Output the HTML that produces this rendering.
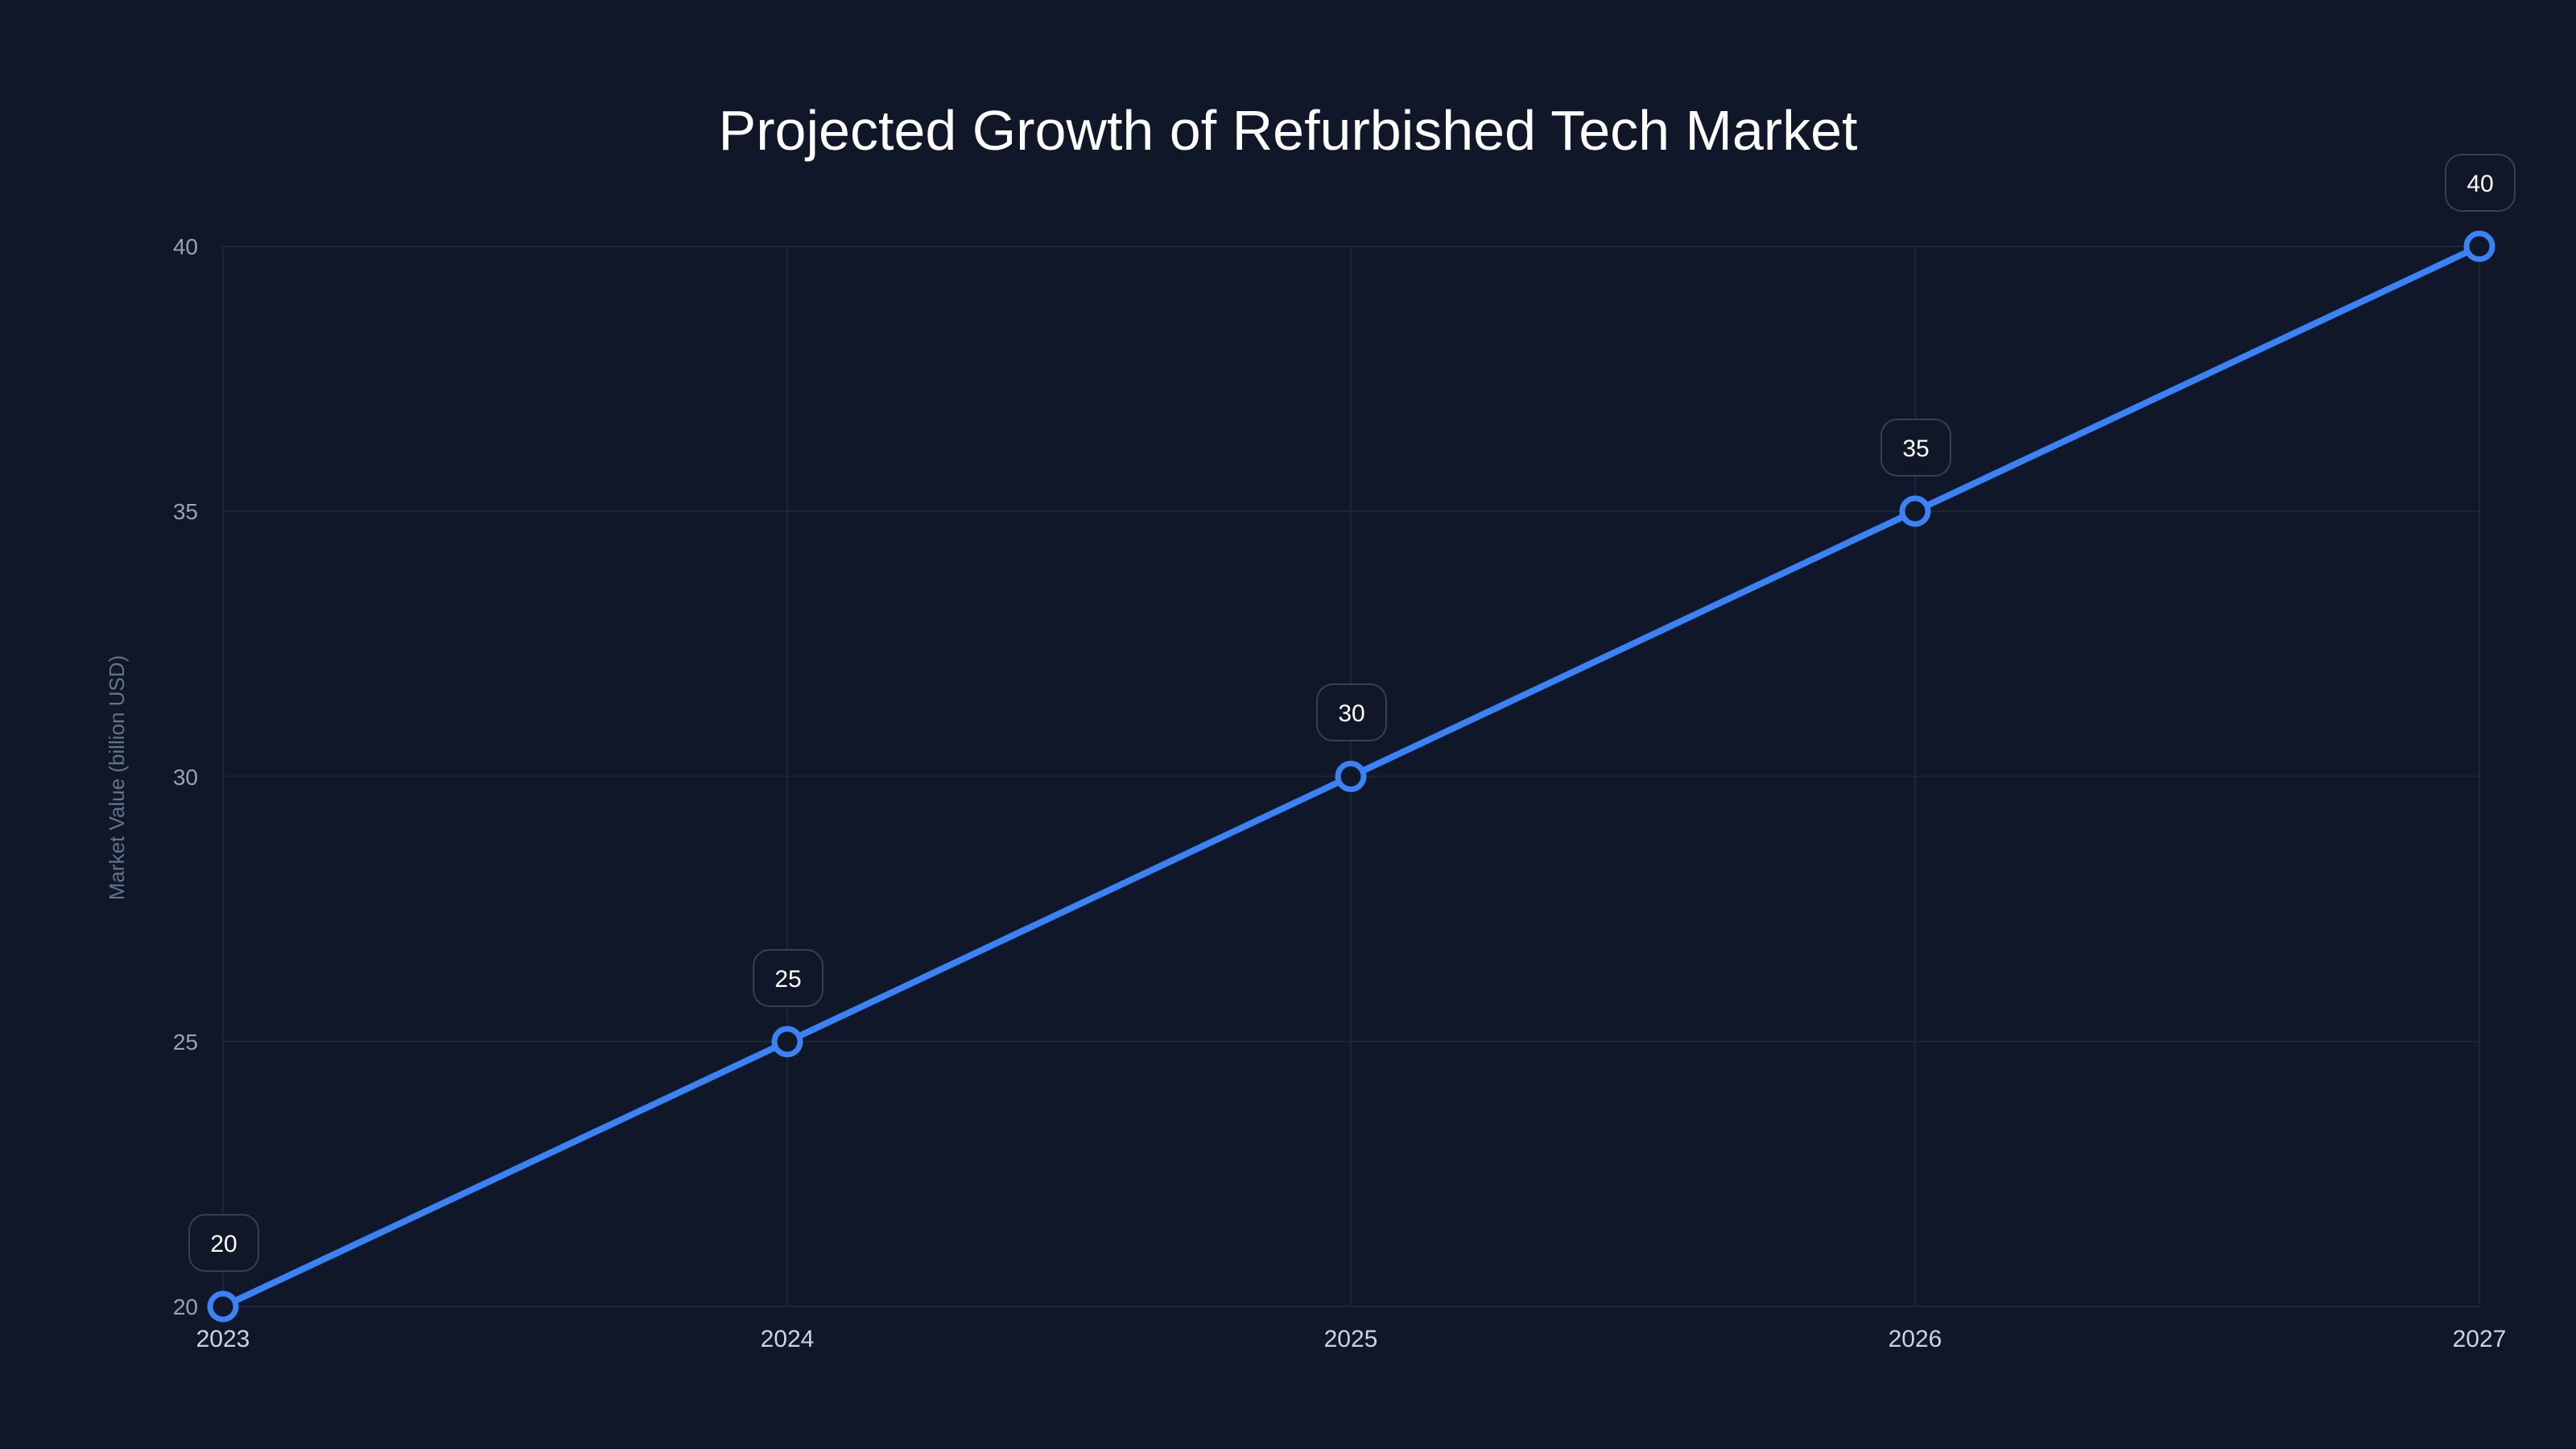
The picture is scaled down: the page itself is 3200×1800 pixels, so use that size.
<!DOCTYPE html>
<html><head><meta charset="utf-8"><style>
html,body{margin:0;padding:0;background:#0f172a;}
svg{display:block;font-family:"Liberation Sans",sans-serif;}
</style></head><body>
<svg width="3200" height="1800" viewBox="0 0 3200 1800">
<rect width="3200" height="1800" fill="#0f1729"/>
<text x="1600" y="186" text-anchor="middle" font-size="70" fill="#ffffff">Projected Growth of Refurbished Tech Market</text>
<g stroke="#1b2537" stroke-width="2">
<line x1="277" y1="306" x2="3080" y2="306"/>
<line x1="277" y1="635" x2="3080" y2="635"/>
<line x1="277" y1="964.5" x2="3080" y2="964.5"/>
<line x1="277" y1="1294" x2="3080" y2="1294"/>
<line x1="277" y1="1623" x2="3080" y2="1623"/>
<line x1="277" y1="306" x2="277" y2="1623"/>
<line x1="978" y1="306" x2="978" y2="1623"/>
<line x1="1678" y1="306" x2="1678" y2="1623"/>
<line x1="2379" y1="306" x2="2379" y2="1623"/>
<line x1="3080" y1="306" x2="3080" y2="1623"/>
</g>
<g font-size="28" fill="#94a3b8" text-anchor="end">
<text x="246" y="316">40</text>
<text x="246" y="645">35</text>
<text x="246" y="975">30</text>
<text x="246" y="1304">25</text>
<text x="246" y="1633">20</text>
</g>
<g font-size="30" fill="#cbd5e1" text-anchor="middle">
<text x="277" y="1673">2023</text>
<text x="978" y="1673">2024</text>
<text x="1678" y="1673">2025</text>
<text x="2379" y="1673">2026</text>
<text x="3080" y="1673">2027</text>
</g>
<text transform="translate(154,966) rotate(-90)" text-anchor="middle" font-size="26" fill="#64748b">Market Value (billion USD)</text>
<polyline points="277,1623 978,1294 1678,964.5 2379,635 3080,306" fill="none" stroke="#3b82f6" stroke-width="8"/>
<g fill="#0f1729" stroke="#3b82f6" stroke-width="7">
<circle cx="277" cy="1623" r="16"/><circle cx="978" cy="1294" r="16"/><circle cx="1678" cy="964.5" r="16"/><circle cx="2379" cy="635" r="16"/><circle cx="3080" cy="306" r="16"/>
</g>
<g fill="#0f1729" stroke="#334155" stroke-width="2">
<rect x="235" y="1509" width="86" height="70" rx="20"/>
<rect x="936" y="1180" width="86" height="70" rx="20"/>
<rect x="1636" y="850" width="86" height="70" rx="20"/>
<rect x="2337" y="521" width="86" height="70" rx="20"/>
<rect x="3038" y="192" width="86" height="70" rx="20"/>
</g>
<g font-size="30" fill="#ffffff" text-anchor="middle">
<text x="278" y="1555">20</text>
<text x="979" y="1226">25</text>
<text x="1679" y="896">30</text>
<text x="2380" y="567">35</text>
<text x="3081" y="238">40</text>
</g>
</svg>
</body></html>
